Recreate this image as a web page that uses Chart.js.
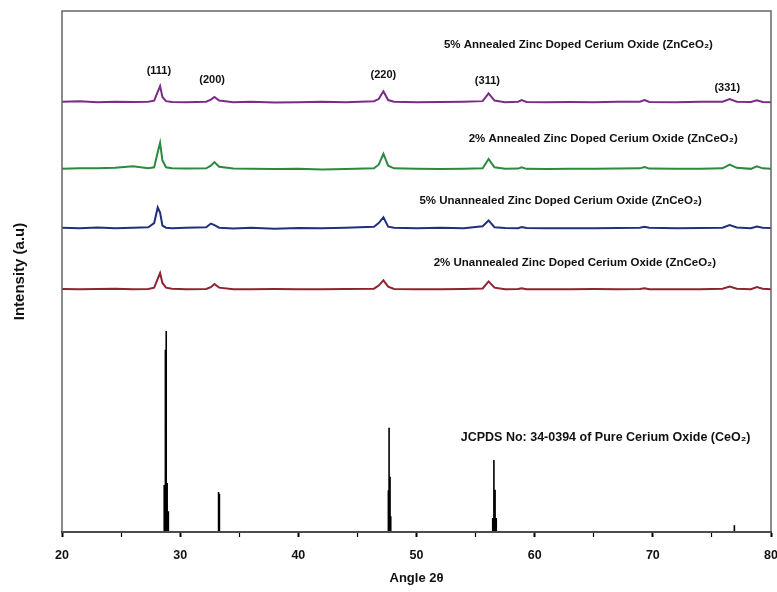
<!DOCTYPE html>
<html>
<head>
<meta charset="utf-8">
<script src="https://cdn.jsdelivr.net/npm/chart.js@4.4.1/dist/chart.umd.min.js"></script>
<style>
  html, body { margin: 0; padding: 0; background: #fff; }
  #wrap { width: 777px; height: 592px; }
</style>
</head>
<body>
<div id="wrap"><canvas id="graph" width="777" height="592"></canvas></div>
<script>
const angles = [20, 21.5, 23, 24.5, 26, 27.3, 27.8, 28.1, 28.3, 28.5, 28.8, 29.3, 30.5, 32.2, 32.6, 32.9, 33.3, 34.5, 36, 38,
  40, 42, 44, 46.4, 46.8, 47.2, 47.6, 48.1, 50, 52, 54, 55.6, 56.1, 56.6, 57.5, 58.6, 58.9, 59.3, 61, 63,
  65, 67, 68.9, 69.3, 69.7, 72, 74, 75.9, 76.5, 77.1, 78.3, 78.8, 79.3, 80];

// intensity above each trace's own baseline (a.u.)
const annealed5 = [0.1, 0.2, 0.0, 0.1, 0.05, 0.1, 0.3, 2.0, 3.1, 1.0, 0.2, 0.05, 0.0, 0.1, 0.5, 1.0, 0.3, 0.0, 0.1, -0.05,
  0.0, 0.1, 0.0, 0.2, 0.6, 2.1, 0.4, 0.1, 0.0, 0.05, 0.1, 0.2, 1.7, 0.3, 0.0, 0.1, 0.4, 0.05, 0.0, 0.05,
  0.0, 0.1, 0.1, 0.4, 0.05, 0.0, 0.1, 0.1, 0.6, 0.1, 0.05, 0.35, 0.05, 0.0];
const annealed2 = [0.0, 0.1, 0.1, 0.2, 0.5, 0.1, 0.3, 3.2, 5.0, 1.6, 0.3, 0.1, 0.05, 0.1, 0.6, 1.3, 0.4, 0.05, 0.0, -0.05,
  0.0, -0.1, -0.05, 0.1, 0.8, 2.9, 0.6, 0.1, 0.0, -0.05, 0.0, 0.1, 1.9, 0.3, 0.0, 0.05, 0.3, 0.0, -0.05, 0.0,
  0.0, 0.05, 0.1, 0.35, 0.05, 0.0, 0.0, 0.1, 0.8, 0.2, 0.0, 0.5, 0.1, 0.0];
const unannealed5 = [0.1, 0.0, 0.15, 0.0, 0.1, 0.2, 1.0, 4.0, 3.0, 0.5, 0.1, 0.0, 0.1, 0.2, 0.9, 0.6, 0.1, -0.05, 0.1, -0.1,
  0.05, 0.0, 0.1, 0.3, 1.0, 2.1, 0.3, 0.1, 0.0, 0.1, 0.0, 0.4, 1.5, 0.2, 0.05, 0.0, 0.25, 0.05, 0.0, 0.0,
  0.0, 0.05, 0.1, 0.3, 0.1, 0.0, 0.05, 0.1, 0.6, 0.15, 0.0, 0.35, 0.1, 0.05];
const unannealed2 = [0.05, 0.0, 0.05, 0.1, 0.0, 0.05, 0.3, 2.0, 3.1, 1.2, 0.3, 0.1, 0.0, 0.05, 0.4, 1.0, 0.3, 0.0, 0.0, 0.05,
  0.0, 0.0, 0.05, 0.1, 0.7, 1.7, 0.5, 0.05, 0.0, 0.0, 0.05, 0.15, 1.5, 0.3, 0.0, 0.05, 0.2, 0.0, 0.0, 0.0,
  0.05, 0.0, 0.05, 0.2, 0.0, 0.0, 0.0, 0.1, 0.5, 0.1, 0.0, 0.4, 0.1, 0.0];

// vertical stacking of the traces
const offsets = [82.5, 69.7, 58.3, 46.6];
const seriesNames = ['5% Annealed', '2% Annealed', '5% Unannealed', '2% Unannealed'];
const seriesColors = ['#7a2c86', '#2b8a3e', '#22307c', '#8e2430'];

// JCPDS 34-0394 reference sticks
const jcpdsAngles = [28.65, 28.75, 28.82, 28.9, 29.0, 33.25, 33.32, 47.62, 47.68, 47.76, 47.82, 56.45, 56.55, 56.65, 56.75, 76.9];
const jcpdsHeights = [9.0, 35.0, 38.6, 9.4, 4.0, 7.7, 7.3, 8.0, 20.0, 10.6, 3.0, 2.7, 13.8, 8.1, 2.7, 1.3];

const xTicks = [20, 30, 40, 50, 60, 70, 80];

// text labels: [text, angle, intensity, font size]
const labels = [
  ['5% Annealed Zinc Doped Cerium Oxide (ZnCeO\u2082)', 63.7, 93.5, 11.5],
  ['2% Annealed Zinc Doped Cerium Oxide (ZnCeO\u2082)', 65.8, 75.4, 11.5],
  ['5% Unannealed Zinc Doped Cerium Oxide (ZnCeO\u2082)', 62.2, 63.5, 11.5],
  ['2% Unannealed Zinc Doped Cerium Oxide (ZnCeO\u2082)', 63.4, 51.6, 11.5],
  ['JCPDS No: 34-0394 of Pure Cerium Oxide (CeO\u2082)', 66.0, 18.2, 12.5],
  ['(111)', 28.2, 88.4, 11],
  ['(200)', 32.7, 86.8, 11],
  ['(220)', 47.2, 87.7, 11],
  ['(311)', 56.0, 86.6, 11],
  ['(331)', 76.3, 85.2, 11]
];

const traces = [annealed5, annealed2, unannealed5, unannealed2];
const datasets = traces.map((vals, k) => ({
  label: seriesNames[k],
  data: angles.map((a, i) => ({ x: a, y: vals[i] + offsets[k] })),
  borderColor: seriesColors[k],
  borderWidth: 2,
  pointRadius: 0,
  showLine: true,
  tension: 0
}));

const stickData = [];
jcpdsAngles.forEach((a, i) => {
  stickData.push({ x: a, y: 0 }, { x: a, y: jcpdsHeights[i] }, { x: a, y: null });
});
datasets.push({
  label: 'JCPDS',
  data: stickData,
  borderColor: '#000',
  borderWidth: 1.6,
  pointRadius: 0,
  showLine: true,
  spanGaps: false
});

const textPlugin = {
  id: 'texts',
  afterDatasetsDraw(chart) {
    const c = chart.ctx;
    const xs = chart.scales.x, ys = chart.scales.y;
    const area = chart.chartArea;
    c.save();
    // plot frame
    c.strokeStyle = '#666';
    c.lineWidth = 1.5;
    c.strokeRect(area.left, area.top, area.right - area.left, area.bottom - area.top);
    c.fillStyle = '#111';
    c.textAlign = 'center';
    c.textBaseline = 'middle';
    labels.forEach(l => {
      c.font = 'bold ' + l[3] + 'px "Liberation Sans", Arial, sans-serif';
      c.fillText(l[0], xs.getPixelForValue(l[1]), ys.getPixelForValue(l[2]));
    });
    c.restore();
  }
};

const ctx = document.getElementById('graph').getContext('2d');
const chartx = new Chart(ctx, {
  type: 'scatter',
  data: { datasets: datasets },
  plugins: [textPlugin],
  options: {
    responsive: false,
    animation: false,
    layout: { padding: { top: 11, right: 6, left: 0, bottom: 0 } },
    plugins: { legend: { display: false }, tooltip: { enabled: false } },
    scales: {
      x: {
        type: 'linear',
        min: 20,
        max: 80,
        afterBuildTicks: s => { s.ticks = [];
          for (let v = 20; v <= 80; v += 5) s.ticks.push({ value: v }); },
        afterFit: s => { s.height = 60; s.paddingLeft = 0; s.paddingRight = 0; },
        border: { color: '#000', width: 2 },
        grid: {
          drawOnChartArea: false,
          tickLength: 5,
          tickColor: '#000',
          tickWidth: c => (c.tick && xTicks.includes(c.tick.value)) ? 2 : 1.2
        },
        ticks: {
          padding: 11,
          maxRotation: 0,
          color: '#111',
          font: { family: '"Liberation Sans", Arial, sans-serif', size: 12.5, weight: 'bold' },
          callback: v => xTicks.includes(v) ? String(v) : ''
        },
        title: {
          display: true,
          text: 'Angle 2\u03b8',
          color: '#111',
          font: { family: '"Liberation Sans", Arial, sans-serif', size: 13, weight: 'bold' },
          padding: { top: 4, bottom: 6 }
        }
      },
      y: {
        min: 0,
        max: 100,
        afterFit: s => { s.width = 62; },
        border: { display: false },
        grid: { display: false },
        ticks: { display: false },
        title: {
          display: true,
          text: 'Intensity (a.u)',
          color: '#111',
          font: { family: '"Liberation Sans", Arial, sans-serif', size: 15, weight: 'bold' },
          padding: { top: 11, bottom: 0 }
        }
      }
    }
  }
});
</script>
</body>
</html>
